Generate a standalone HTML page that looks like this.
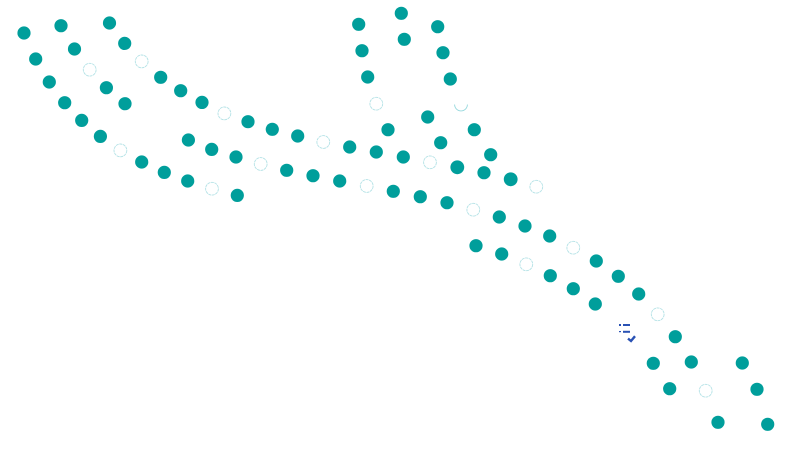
<!DOCTYPE html>
<html>
<head>
<meta charset="utf-8">
<style>
html,body{margin:0;padding:0;background:#fff;width:787px;height:473px;overflow:hidden}
svg{display:block}
.f circle{fill:#009e9b}
.h circle{fill:none;stroke:#b4e2e6;stroke-width:.9;stroke-dasharray:3 .6}
</style>
</head>
<body>
<svg width="787" height="473" viewBox="0 0 787 473" xmlns="http://www.w3.org/2000/svg">
<g class="f">
<circle cx="24" cy="33" r="6.6"/><circle cx="61" cy="25.7" r="6.6"/><circle cx="109.5" cy="23" r="6.6"/>
<circle cx="35.7" cy="59" r="6.6"/><circle cx="74.5" cy="49" r="6.6"/><circle cx="124.7" cy="43.4" r="6.6"/>
<circle cx="160.7" cy="77.3" r="6.6"/><circle cx="180.7" cy="90.7" r="6.6"/><circle cx="202" cy="102.4" r="6.6"/>
<circle cx="248" cy="121.7" r="6.6"/><circle cx="49.3" cy="82" r="6.6"/><circle cx="106.4" cy="87.7" r="6.6"/>
<circle cx="125" cy="103.7" r="6.6"/><circle cx="64.7" cy="102.7" r="6.6"/><circle cx="81.7" cy="120.4" r="6.6"/>
<circle cx="100.4" cy="136.4" r="6.6"/><circle cx="141.7" cy="162" r="6.6"/><circle cx="164.3" cy="172.4" r="6.6"/>
<circle cx="187.7" cy="181" r="6.6"/><circle cx="237.3" cy="195.4" r="6.6"/><circle cx="188.4" cy="140" r="6.6"/>
<circle cx="211.7" cy="149.4" r="6.6"/><circle cx="236" cy="157" r="6.6"/>
<circle cx="358.7" cy="24.3" r="6.6"/><circle cx="401.3" cy="13.3" r="6.6"/><circle cx="437.7" cy="26.7" r="6.6"/>
<circle cx="362" cy="50.7" r="6.6"/><circle cx="404.3" cy="39.3" r="6.6"/><circle cx="443" cy="52.7" r="6.6"/>
<circle cx="367.7" cy="77" r="6.6"/><circle cx="450.3" cy="79" r="6.6"/><circle cx="427.7" cy="117" r="6.6"/>
<circle cx="388" cy="129.7" r="6.6"/><circle cx="474.3" cy="129.7" r="6.6"/><circle cx="272.3" cy="129.3" r="6.6"/>
<circle cx="297.7" cy="136" r="6.6"/><circle cx="349.7" cy="147" r="6.6"/><circle cx="376.3" cy="152" r="6.6"/>
<circle cx="403.3" cy="157" r="6.6"/><circle cx="440.7" cy="142.7" r="6.6"/><circle cx="457.3" cy="167.3" r="6.9"/>
<circle cx="490.7" cy="154.7" r="6.6"/><circle cx="484" cy="172.7" r="6.6"/><circle cx="510.7" cy="179.3" r="6.9"/>
<circle cx="286.7" cy="170.3" r="6.6"/><circle cx="313" cy="175.7" r="6.6"/><circle cx="339.7" cy="181" r="6.6"/>
<circle cx="393.3" cy="191.3" r="6.6"/><circle cx="420.3" cy="196.7" r="6.6"/><circle cx="447" cy="202.7" r="6.6"/>
<circle cx="499.3" cy="217" r="6.6"/><circle cx="525" cy="226" r="6.6"/><circle cx="549.7" cy="236" r="6.6"/>
<circle cx="596.3" cy="261" r="6.6"/><circle cx="618.3" cy="276.3" r="6.6"/><circle cx="638.7" cy="294" r="6.6"/>
<circle cx="675.3" cy="336.7" r="6.6"/><circle cx="476" cy="245.7" r="6.6"/><circle cx="501.7" cy="254" r="6.6"/>
<circle cx="550.3" cy="275.7" r="6.6"/><circle cx="573.3" cy="288.7" r="6.6"/><circle cx="595.3" cy="304" r="6.6"/>
<circle cx="653.3" cy="363.3" r="6.6"/><circle cx="691.3" cy="362" r="6.6"/><circle cx="742.3" cy="363" r="6.6"/>
<circle cx="669.7" cy="388.7" r="6.6"/><circle cx="757" cy="389.3" r="6.6"/><circle cx="718" cy="422.3" r="6.6"/>
<circle cx="767.7" cy="424.3" r="6.6"/>
</g>
<g class="h">
<circle cx="89.7" cy="69.7" r="6.4"/><circle cx="141.7" cy="61.4" r="6.4"/><circle cx="224.4" cy="113.4" r="6.4"/>
<circle cx="120.4" cy="150.4" r="6.4"/><circle cx="212" cy="188.7" r="6.4"/><circle cx="260.7" cy="164" r="6.4"/>
<circle cx="376.3" cy="103.7" r="6.4"/><circle cx="323.3" cy="142" r="6.4"/><circle cx="430" cy="162.3" r="6.4"/>
<circle cx="536.3" cy="186.7" r="6.4"/><circle cx="366.7" cy="186" r="6.4"/><circle cx="473.3" cy="209.7" r="6.4"/>
<circle cx="573.3" cy="247.7" r="6.4"/><circle cx="657.7" cy="314.3" r="6.4"/><circle cx="526.3" cy="264.3" r="6.4"/>
<circle cx="705.7" cy="390.7" r="6.4"/>
</g>
<path d="M454.6 104.5A6.4 6.4 0 0 0 467.4 104.5" fill="none" stroke="#96d8dd" stroke-width=".9"/>
<g fill="#2a52b4">
<rect x="619" y="324" width="2" height="2"/>
<rect x="623" y="324" width="7" height="2"/>
<rect x="619" y="331" width="2" height="1.2"/>
<rect x="623" y="330.8" width="7" height="2"/>
</g>
<path d="M628 338.6L631 341L635 336.2" fill="none" stroke="#2a52b4" stroke-width="2.4"/>
</svg>
</body>
</html>
